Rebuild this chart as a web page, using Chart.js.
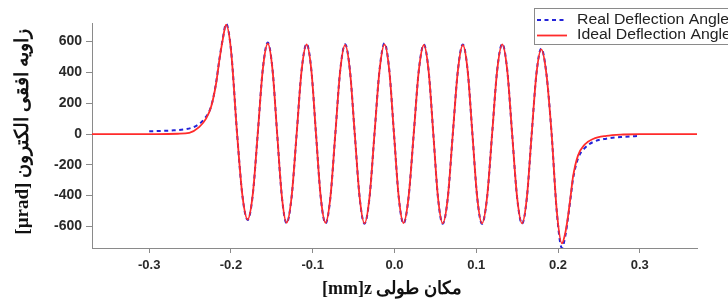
<!DOCTYPE html>
<html>
<head>
<meta charset="utf-8">
<script src="https://cdn.jsdelivr.net/npm/chart.js@4.4.1/dist/chart.umd.min.js"></script>
<style>
  html, body { margin: 0; padding: 0; background: #fff; }
  #wrap { width: 728px; height: 306px; }
</style>
</head>
<body>
<div id="wrap"><canvas id="deflectionChart" width="728" height="306"></canvas></div>
<script>
// ---- data ----
const idealX = [
  -0.370, -0.290, -0.265, -0.251, -0.239, -0.2305, -0.2244, -0.2183, -0.2142, -0.2100,
  -0.2060, -0.2000, -0.1925, -0.1860, -0.1796,
  -0.1734, -0.1673, -0.1611, -0.1550,
  -0.1492, -0.1435, -0.1377, -0.1320,
  -0.1259, -0.1197, -0.1136, -0.1075,
  -0.1017, -0.0960, -0.0902, -0.0844,
  -0.0784, -0.0724, -0.0664, -0.0604,
  -0.0545, -0.0486, -0.0426, -0.0367,
  -0.0306, -0.0245, -0.0183, -0.0122,
  -0.0064, -0.0006, 0.0052, 0.0110,
  0.0172, 0.0235, 0.0297, 0.0359,
  0.0417, 0.0475, 0.0532, 0.0590,
  0.0652, 0.0713, 0.0775, 0.0836,
  0.0895, 0.0953, 0.1012, 0.1070,
  0.1132, 0.1194, 0.1256, 0.1318,
  0.1379, 0.1439, 0.1500, 0.1560,
  0.1619, 0.1678, 0.1736, 0.1795,
  0.1858, 0.1922, 0.1985, 0.2048,
  0.2090, 0.2122, 0.2155, 0.2183, 0.2244, 0.2326, 0.2428, 0.2590, 0.2800, 0.3000, 0.3700
];
const idealY = [
  0, 0, 2, 8, 45, 100, 175, 325, 480, 615,
  710, 545, 0, -400, -555,
  -394, 0, 418, 588,
  417, 0, -409, -576,
  -409, 0, 413, 582,
  413, 0, -410, -577,
  -410, 0, 411, 579,
  411, 0, -412, -580,
  -412, 0, 413, 582,
  413, 0, -410, -578,
  -410, 0, 410, 578,
  410, 0, -412, -580,
  -412, 0, 410, 578,
  410, 0, -412, -580,
  -412, 0, 413, 582,
  413, 0, -412, -580,
  -412, 0, 390, 550,
  390, 0, -500, -710,
  -640, -537, -400, -280, -140, -68, -32, -12, -3, 0, 0
];

const realX = [
  -0.300, -0.285, -0.270, -0.255, -0.243, -0.234, -0.2244, -0.2183, -0.2142, -0.2100,
  -0.2060, -0.2000, -0.1925, -0.1860, -0.1796,
  -0.1734, -0.1673, -0.1611, -0.1550,
  -0.1492, -0.1435, -0.1377, -0.1320,
  -0.1259, -0.1197, -0.1136, -0.1075,
  -0.1017, -0.0960, -0.0902, -0.0844,
  -0.0784, -0.0724, -0.0664, -0.0604,
  -0.0545, -0.0486, -0.0426, -0.0367,
  -0.0306, -0.0245, -0.0183, -0.0122,
  -0.0064, -0.0006, 0.0052, 0.0110,
  0.0172, 0.0235, 0.0297, 0.0359,
  0.0417, 0.0475, 0.0532, 0.0590,
  0.0652, 0.0713, 0.0775, 0.0836,
  0.0895, 0.0953, 0.1012, 0.1070,
  0.1132, 0.1194, 0.1256, 0.1318,
  0.1379, 0.1439, 0.1500, 0.1560,
  0.1619, 0.1678, 0.1736, 0.1795,
  0.1858, 0.1922, 0.1985, 0.2048,
  0.2090, 0.2122, 0.2155, 0.2183, 0.2244, 0.2326, 0.2428, 0.2590, 0.2800, 0.3000
];
const realY = [
  18, 20, 24, 32, 52, 90, 178, 330, 485, 620,
  716, 548, 0, -402, -558,
  -396, 0, 421, 595,
  419, 0, -411, -579,
  -411, 0, 415, 586,
  415, 0, -412, -580,
  -412, 0, 413, 583,
  413, 0, -414, -583,
  -414, 0, 416, 590,
  416, 0, -412, -581,
  -412, 0, 412, 582,
  412, 0, -414, -583,
  -414, 0, 412, 582,
  412, 0, -414, -583,
  -414, 0, 415, 586,
  415, 0, -414, -583,
  -414, 0, 392, 555,
  392, 0, -505, -740,
  -660, -545, -410, -295, -160, -92, -52, -30, -18, -12
];

const xTickValues = [-0.3, -0.2, -0.1, 0.0, 0.1, 0.2, 0.3];
const yTickValues = [-600, -400, -200, 0, 200, 400, 600];

const seriesNames = ['Real Deflection Angle', 'Ideal Deflection Angle'];
const xTitle = '[mm]z مکان طولی';
const yTitle = '[µrad] زاویه افقی الکترون';

const toPoints = (xs, ys) => xs.map((x, i) => ({ x: x, y: ys[i] }));

const BLUE = '#2323d8';
const RED = '#ff2b2b';
const AXIS = '#8a8a8a';

// titles + legend drawn by hand so they sit where the figure has them
const decorations = {
  id: 'decorations',
  afterDraw(chart) {
    const ctx = chart.ctx;
    ctx.save();
    ctx.fillStyle = '#111';
    ctx.textAlign = 'center';
    ctx.textBaseline = 'middle';
    ctx.font = 'bold 18px "Liberation Serif", "Times New Roman", serif';
    ctx.fillText(xTitle, 392, 289);

    ctx.save();
    ctx.translate(23, 132);
    ctx.rotate(-Math.PI / 2);
    ctx.font = 'bold 19px "Liberation Serif", "Times New Roman", serif';
    ctx.fillText(yTitle, 0, 0);
    ctx.restore();

    // legend box
    ctx.fillStyle = '#fff';
    ctx.strokeStyle = AXIS;
    ctx.lineWidth = 1;
    ctx.fillRect(534.5, 8.5, 220, 36);
    ctx.strokeRect(534.5, 8.5, 220, 36);

    const rows = [20, 35.5];
    ctx.lineWidth = 2;
    ctx.strokeStyle = BLUE;
    ctx.setLineDash([4, 3.5]);
    ctx.beginPath();
    ctx.moveTo(537, rows[0]);
    ctx.lineTo(567, rows[0]);
    ctx.stroke();
    ctx.setLineDash([]);
    ctx.strokeStyle = RED;
    ctx.lineWidth = 1.8;
    ctx.beginPath();
    ctx.moveTo(537, rows[1]);
    ctx.lineTo(567, rows[1]);
    ctx.stroke();

    // the figure's text is a little wider than Arial, stretch it sideways
    ctx.fillStyle = '#222';
    ctx.textAlign = 'left';
    ctx.font = '14px "Liberation Sans", Arial, sans-serif';
    ctx.translate(577, 0);
    ctx.scale(1.13, 1);
    ctx.fillText(seriesNames[0], 0, rows[0]);
    ctx.fillText(seriesNames[1], 0, rows[1]);
    ctx.restore();
  }
};

document.addEventListener('DOMContentLoaded', function () {
  const ctx = document.getElementById('deflectionChart').getContext('2d');
  new Chart(ctx, {
    type: 'line',
    data: {
      datasets: [{
        label: seriesNames[0],
        data: toPoints(realX, realY),
        borderColor: BLUE,
        borderWidth: 2,
        borderDash: [4, 3.5],
        pointRadius: 0,
        cubicInterpolationMode: 'monotone',
        order: 1
      }, {
        label: seriesNames[1],
        data: toPoints(idealX, idealY),
        borderColor: RED,
        borderWidth: 1.8,
        pointRadius: 0,
        cubicInterpolationMode: 'monotone',
        order: 0
      }]
    },
    options: {
      responsive: false,
      animation: false,
      layout: { padding: { left: 0, top: 23, right: 31, bottom: 0 } },
      plugins: {
        legend: { display: false },
        tooltip: { enabled: false }
      },
      scales: {
        x: {
          type: 'linear',
          min: -0.37,
          max: 0.37,
          afterFit: s => { s.height = 58; },
          afterBuildTicks: s => { s.ticks = xTickValues.map(v => ({ value: v })); },
          border: { display: true, color: AXIS, width: 1 },
          grid: { drawOnChartArea: false, drawTicks: true, tickLength: 5, color: AXIS },
          ticks: {
            padding: 5,
            color: '#2a2a2a',
            font: { family: '"Liberation Sans", Arial, sans-serif', size: 13, weight: 'bold' },
            callback: v => (Math.abs(v) < 1e-9 ? 0 : v).toFixed(1)
          }
        },
        y: {
          min: -740,
          max: 721,
          afterFit: s => { s.width = 92; },
          afterBuildTicks: s => { s.ticks = yTickValues.map(v => ({ value: v })); },
          border: { display: true, color: AXIS, width: 1 },
          grid: { drawOnChartArea: false, drawTicks: true, tickLength: 6, color: AXIS },
          ticks: {
            padding: 4,
            color: '#2a2a2a',
            font: { family: '"Liberation Sans", Arial, sans-serif', size: 14, weight: 'bold' },
            callback: v => String(v)
          }
        }
      }
    },
    plugins: [decorations]
  });
});
</script>
</body>
</html>
